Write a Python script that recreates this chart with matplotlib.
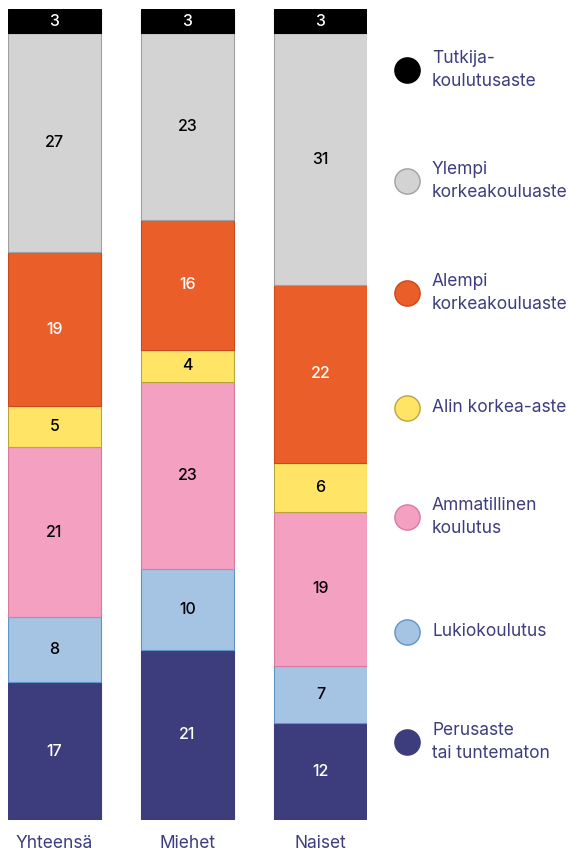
import numpy as np
import matplotlib.pyplot as plt

plt.rcParams['font.family'] = ['Inter', 'DejaVu Sans']

# Data (percent shares, bottom to top)
groups = ['Yhteensä', 'Miehet', 'Naiset']
levels = ['Perusaste\ntai tuntematon', 'Lukiokoulutus', 'Ammatillinen\nkoulutus',
          'Alin korkea-aste', 'Alempi\nkorkeakouluaste', 'Ylempi\nkorkeakouluaste',
          'Tutkija-\nkoulutusaste']
values = {
    'Yhteensä': [17, 8, 21, 5, 19, 27, 3],
    'Miehet':   [21, 10, 23, 4, 16, 23, 3],
    'Naiset':   [12, 7, 19, 6, 22, 31, 3],
}
colors = ['#3d3d7e', '#a5c4e4', '#f4a0c0', '#ffe466', '#ea5f29', '#d3d3d3', '#000000']
edges = ['#3d3d7e', '#5e94c8', '#d97aa0', '#b8a540', '#c84a1a', '#a0a0a0', '#000000']
label_colors = ['white', 'black', 'black', 'black', 'white', 'black', 'white']
navy = '#3d3d80'

fig = plt.figure(figsize=(5.70, 8.51), dpi=100)
ax = fig.add_axes([8 / 570, 1 - 820 / 851, 359 / 570, 811 / 851])

x = np.arange(len(groups))
width = 0.7
bottom = np.zeros(len(groups))
for i, lev in enumerate(levels):
    vals = np.array([values[g][i] for g in groups])
    ax.bar(x, vals, width, bottom=bottom, color=colors[i], edgecolor=edges[i], linewidth=0.8)
    for xi, v, b in zip(x, vals, bottom):
        ax.text(xi, b + v / 2, str(v), ha='center', va='center', fontsize=11.5,
                color=label_colors[i], fontweight='medium')
    bottom += vals

ax.set_xlim(-0.35, 2.35)
ax.set_ylim(0, 100)
ax.axis('off')
for xi, g in zip(x, groups):
    ax.text(xi, -2.9, g, ha='center', va='center', fontsize=12.5, color=navy)

# Legend on the right, top to bottom
lax = fig.add_axes([0, 0, 1, 1])
lax.set_xlim(0, 570)
lax.set_ylim(851, 0)
lax.axis('off')
leg_y = [742, 632, 517, 408, 293, 181, 70]
for i, lev in enumerate(levels):
    lax.scatter(407, leg_y[i], s=330, color=colors[i], edgecolor=edges[i], linewidth=1)
    lax.text(432, leg_y[i], lev, ha='left', va='center', fontsize=12.5, color=navy,
             linespacing=1.4)

plt.savefig('out.png', dpi=100)
